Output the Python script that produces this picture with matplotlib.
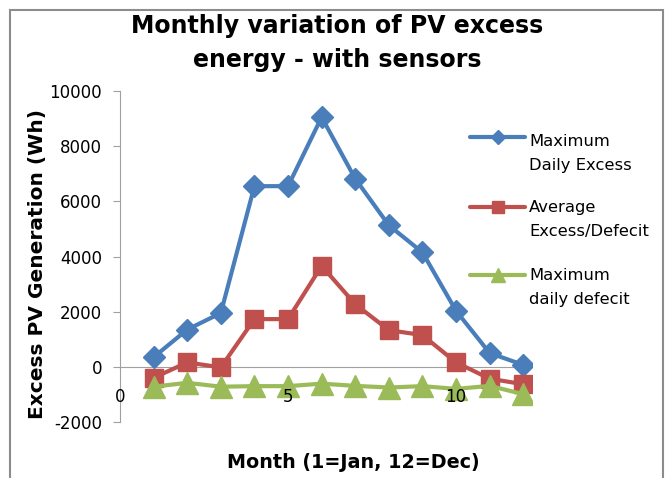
import matplotlib
matplotlib.use("Agg")
import matplotlib.pyplot as plt
from matplotlib.patches import Rectangle
from matplotlib.lines import Line2D

months = [1, 2, 3, 4, 5, 6, 7, 8, 9, 10, 11, 12]
max_daily_excess = [350, 1350, 1950, 6550, 6550, 9050, 6820, 5130, 4150, 2030, 500, 70]
avg_excess_defecit = [-400, 160, -20, 1730, 1730, 3660, 2270, 1330, 1150, 160, -430, -630]
max_daily_defecit = [-720, -580, -720, -700, -700, -610, -690, -750, -700, -800, -690, -990]

series_labels = ["Maximum\nDaily Excess", "Average\nExcess/Defecit", "Maximum\ndaily defecit"]
yticks = [-2000, 0, 2000, 4000, 6000, 8000, 10000]
xticks = [0, 5, 10]
title_lines = ["Monthly variation of PV excess", "energy - with sensors"]

plt.rcParams['font.family'] = ['DejaVu Sans']
plt.rcParams['axes.unicode_minus'] = False

W, H = 667, 478
fig = plt.figure(figsize=(W / 100, H / 100), dpi=100)
fig.patch.set_facecolor('white')

def fx(px):
    return px / W

def fy(py):
    return 1 - py / H

fig.patches.append(Rectangle((fx(10), -0.05), 653 / W, 1.05 - 10 / H, transform=fig.transFigure,
                             fill=False, edgecolor='#8c8c8c', linewidth=1.5))

ax = fig.add_axes([fx(120), fy(422), 412 / W, 331 / H])
ax.set_facecolor('none')

blue, red, green = '#4A7EBB', '#C0504D', '#9BBB59'
styles = [
    (max_daily_excess, blue, 'D', 11),
    (avg_excess_defecit, red, 's', 13.5),
    (max_daily_defecit, green, '^', 15.5),
]
for i, (vals, c, m, ms) in enumerate(styles):
    ax.plot(months, vals, color=c, lw=3, marker=m, ms=ms, mec=c, zorder=3 + i)

ax.set_xlim(0, 12.26)
ax.set_ylim(-2000, 10000)
ax.set_yticks(yticks)
ax.set_xticks(xticks)
for s in ['top', 'right']:
    ax.spines[s].set_visible(False)
ax.spines['bottom'].set_position(('data', 0))
ax.spines['bottom'].set_color('#a0a0a0')
ax.spines['left'].set_color('#a0a0a0')
ax.tick_params(axis='y', direction='out', length=5, color='#a0a0a0', labelsize=12, pad=8)
ax.tick_params(axis='x', length=0, labelsize=12, pad=15)
ax.xaxis.set_zorder(10)

fig.text(fx(38), fy(264), "Excess PV Generation (Wh)", rotation=90, ha='center', va='center',
         fontsize=14.5, fontweight='bold')
fig.text(fx(353), fy(462), "Month (1=Jan, 12=Dec)", ha='center', va='center',
         fontsize=13.8, fontweight='bold')
for line, base in zip(title_lines, [33, 67]):
    fig.text(fx(337), fy(base), line, ha='center', va='baseline', fontsize=17, fontweight='bold')

# legend (Excel style: handle aligned with first text line)
leg_y = [137, 207, 275]
leg_base = [146, 212, 280]
leg_ms = [7, 8, 10]
for (vals, c, m, ms), lab, yh, yb, lms in zip(styles, series_labels, leg_y, leg_base, leg_ms):
    fig.lines.append(Line2D([fx(470), fx(525)], [fy(yh), fy(yh)], transform=fig.transFigure,
                            color=c, lw=3, solid_capstyle='round'))
    fig.lines.append(Line2D([fx(497.5)], [fy(yh)], transform=fig.transFigure,
                            color=c, marker=m, ms=lms, mec=c, lw=0))
    for k, part in enumerate(lab.split('\n')):
        fig.text(fx(529), fy(yb + 24 * k), part, ha='left', va='baseline', fontsize=11.8)

fig.savefig("out.png", dpi=100)
